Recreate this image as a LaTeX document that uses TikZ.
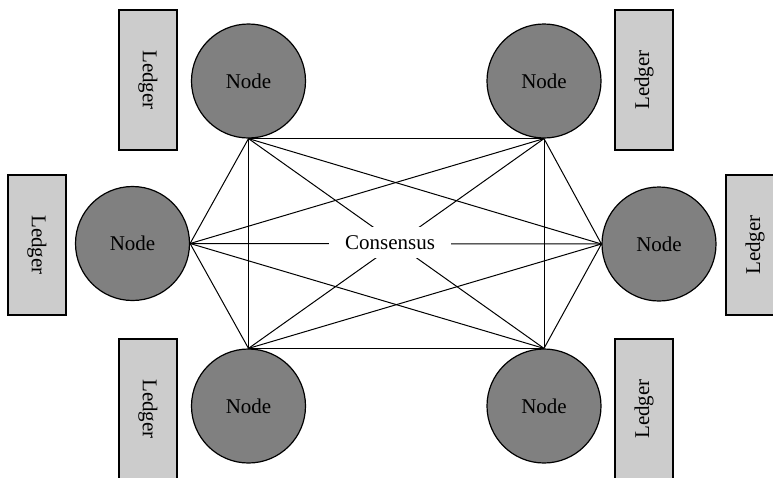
\documentclass[tikz,border=0pt]{standalone}
\usepackage{fontspec}
\setmainfont{Liberation Serif}
\definecolor{peergray}{HTML}{808080}
\definecolor{ledgergray}{HTML}{CCCCCC}
\begin{document}
\begin{tikzpicture}[x=1pt,y=-1pt,
  peer/.style={circle,draw=black,line width=1.2pt,fill=peergray,
    minimum size=114pt,inner sep=0pt,font=\fontsize{21}{24}\selectfont},
  ledgerbox/.style={rectangle,draw=black,line width=1.2pt,fill=ledgergray,
    minimum width=140pt,minimum height=58pt,inner sep=0pt,
    font=\fontsize{21}{24}\selectfont},
  link/.style={draw=black,line width=1pt},
  hub/.style={rectangle,fill=white,minimum width=122pt,minimum height=31pt,
    inner sep=0pt,font=\fontsize{21}{24}\selectfont}]
\useasboundingbox (0,0) rectangle (773,477);
\clip (0,0) rectangle (773,477);

% ledgers beside each peer
\node[ledgerbox,rotate=-90] (ltl) at (148,80) {Ledger};
\node[ledgerbox,rotate=90]  (ltr) at (644,80) {Ledger};
\node[ledgerbox,rotate=-90] (ll)  at (37,245) {Ledger};
\node[ledgerbox,rotate=90]  (lr)  at (755,245) {Ledger};
\node[ledgerbox,rotate=-90] (lbl) at (148,409) {Ledger};
\node[ledgerbox,rotate=90]  (lbr) at (644,409) {Ledger};

% peers
\node[peer] (tl) at (248.5,81)  {Node};
\node[peer] (tr) at (544,81)    {Node};
\node[peer] (l)  at (132.5,243.5) {Node};
\node[peer] (r)  at (659,244)   {Node};
\node[peer] (bl) at (248.5,406) {Node};
\node[peer] (br) at (544,406)   {Node};

% full mesh between the peers
\draw[link] (tl.south) -- (tr.south);
\draw[link] (bl.north) -- (br.north);
\draw[link] (tl.south) -- (bl.north);
\draw[link] (tr.south) -- (br.north);
\draw[link] (l.east) -- (r.west);
\draw[link] (tl.south) -- (l.east);
\draw[link] (l.east) -- (bl.north);
\draw[link] (tr.south) -- (r.west);
\draw[link] (r.west) -- (br.north);
\draw[link] (tl.south) -- (br.north);
\draw[link] (tr.south) -- (bl.north);
\draw[link] (tl.south) -- (r.west);
\draw[link] (l.east) -- (tr.south);
\draw[link] (l.east) -- (br.north);
\draw[link] (bl.north) -- (r.west);

% label over the mesh
\node[hub] (cons) at (390,242.5) {Consensus};
\end{tikzpicture}
\end{document}
